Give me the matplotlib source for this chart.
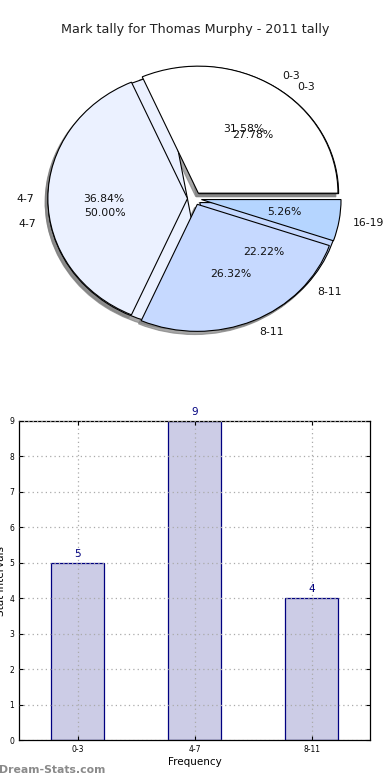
import matplotlib
matplotlib.use("Agg")
import matplotlib.pyplot as plt

# pie data (two tallies drawn on top of each other)
labels_a = ["0-3", "4-7", "8-11"]
counts_a = [5, 9, 4]
colors_a = ["#ffffff", "#ebf1ff", "#c6d9ff"]

labels_b = ["0-3", "4-7", "8-11", "16-19"]
counts_b = [6, 7, 5, 1]
colors_b = ["#ffffff", "#ebf1ff", "#c6d9ff", "#b5d5ff"]

# bar data
bar_labels = ["0-3", "4-7", "8-11"]
bar_values = [5, 9, 4]

fig = plt.figure(figsize=(3.9, 7.8), dpi=100)

fig.text(0.5, 1 - 30 / 780, "Mark tally for Thomas Murphy - 2011 tally",
         ha="center", va="center", fontsize=9.2, color="#222222")

# pie axes (old style, not equal aspect -> ellipse)
ax1 = fig.add_axes([6 / 390, 410 / 780, 377 / 390, 343 / 780])
shadow_opts = {"ox": -0.014, "oy": -0.018, "facecolor": "#808080",
               "edgecolor": "#808080", "alpha": 0.7}
for vals, labs, cols in [(counts_a, labels_a, colors_a), (counts_b, labels_b, colors_b)]:
    wedges, texts, autotexts = ax1.pie(
        vals, labels=labs, colors=cols, explode=[0.05] * len(vals),
        autopct="%1.2f%%", shadow=shadow_opts, startangle=0,
        wedgeprops={"edgecolor": "black", "linewidth": 0.8},
        textprops={"fontsize": 7.8, "color": "#111111"},
    )
ax1.set_aspect("auto")
ax1.set_xlim(-1.35, 1.35)
ax1.set_ylim(-1.35, 1.35)
ax1.axis("off")

# bar axes
ax2 = fig.add_axes([19 / 390, 40 / 780, 351 / 390, 319 / 780])
x = list(range(len(bar_values)))
ax2.bar(x, bar_values, width=0.45, color="#ccccE6", edgecolor="#000080", linewidth=0.9)
for xi, v in zip(x, bar_values):
    ax2.text(xi, v + 0.12, str(v), ha="center", va="bottom", fontsize=7.5, color="#000080")
ax2.set_xlim(-0.5, 2.5)
ax2.set_ylim(0, 9)
ax2.set_yticks(range(0, 10))
ax2.set_xticks(x)
ax2.set_xticklabels(bar_labels)
ax2.tick_params(axis="both", direction="in", labelsize=5.5, length=3, top=True, right=True)
ax2.set_axisbelow(False)
ax2.grid(True, linestyle=(0, (1, 2.5)), color="#aaaaaa", linewidth=0.9)
ax2.set_xlabel("Frequency", fontsize=7.5, labelpad=2)
ax2.set_ylabel("Stat Intervals", fontsize=7.5, labelpad=2)
for s in ax2.spines.values():
    s.set_linewidth(0.9)

fig.text(-0.003, 1 - 770 / 780, "Dream-Stats.com", ha="left", va="center",
         fontsize=7.8, color="#8a8a8a", fontweight="bold")

fig.savefig("out.png", dpi=100)
